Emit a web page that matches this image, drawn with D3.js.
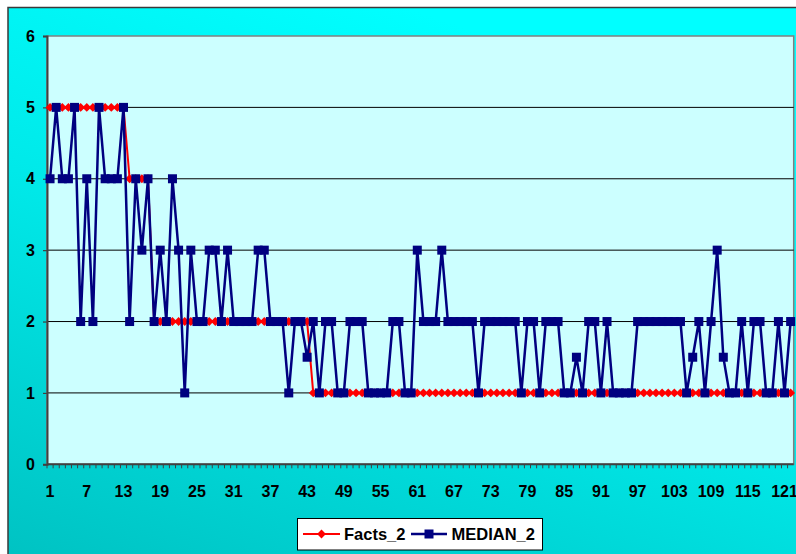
<!DOCTYPE html>
<html>
<head>
<meta charset="utf-8">
<script src="https://cdn.jsdelivr.net/npm/d3@7"></script>
<style>
  html, body { margin: 0; padding: 0; background: #ffffff; }
  svg { display: block; }
  text { font-family: "Liberation Sans", Arial, sans-serif; font-weight: bold; fill: #000; }
</style>
</head>
<body>
<svg id="chart" width="796" height="554"></svg>
<script>
// ---- data ----
const categories = [
  1,2,3,4,5,6,7,8,9,10,11,12,13,14,15,16,17,18,19,20,
  21,22,23,24,25,26,27,28,29,30,31,32,33,34,35,36,37,38,39,40,
  41,42,43,44,45,46,47,48,49,50,51,52,53,54,55,56,57,58,59,60,
  61,62,63,64,65,66,67,68,69,70,71,72,73,74,75,76,77,78,79,80,
  81,82,83,84,85,86,87,88,89,90,91,92,93,94,95,96,97,98,99,100,
  101,102,103,104,105,106,107,108,109,110,111,112,113,114,115,116,117,118,119,120,
  121,122
];
const facts2 = [
  5,5,5,5,5,5,5,5,5,5,
  5,5,5,4,4,4,4,2,2,2,
  2,2,2,2,2,2,2,2,2,2,
  2,2,2,2,2,2,2,2,2,2,
  2,2,2,1,1,1,1,1,1,1,
  1,1,1,1,1,1,1,1,1,1,
  1,1,1,1,1,1,1,1,1,1,
  1,1,1,1,1,1,1,1,1,1,
  1,1,1,1,1,1,1,1,1,1,
  1,1,1,1,1,1,1,1,1,1,
  1,1,1,1,1,1,1,1,1,1,
  1,1,1,1,1,1,1,1,1,1,
  1,1
];
const median2 = [
  4,5,4,4,5,2,4,2,5,4,
  4,4,5,2,4,3,4,2,3,2,
  4,3,1,3,2,2,3,3,2,3,
  2,2,2,2,3,3,2,2,2,1,
  2,2,1.5,2,1,2,2,1,1,2,
  2,2,1,1,1,1,2,2,1,1,
  3,2,2,2,3,2,2,2,2,2,
  1,2,2,2,2,2,2,1,2,2,
  1,2,2,2,1,1,1.5,1,2,2,
  1,2,1,1,1,1,2,2,2,2,
  2,2,2,2,1,1.5,2,1,2,3,
  1.5,1,1,2,1,2,2,1,1,2,
  1,2
];
const xTickLabels = [1,7,13,19,25,31,37,43,49,55,61,67,73,79,85,91,97,103,109,115,121];
const yTicks = [0,1,2,3,4,5,6];
const gridValues = [1,2,3,4,5];
const seriesNames = ["Facts_2", "MEDIAN_2"];

// ---- layout ----
const W = 796, H = 554;
const plot = { left: 47, top: 36, right: 793.7, bottom: 464.3 };
const svg = d3.select("#chart");

const defs = svg.append("defs");
const grad = defs.append("linearGradient").attr("id", "bg")
  .attr("x1", 0).attr("y1", 1).attr("x2", 0.5).attr("y2", 0);
grad.append("stop").attr("offset", 0).attr("stop-color", "#00c2c2");
grad.append("stop").attr("offset", 0.55).attr("stop-color", "#00e8e8");
grad.append("stop").attr("offset", 1).attr("stop-color", "#00ffff");

// chart area
svg.append("rect").attr("x", 8).attr("y", 7.5).attr("width", W).attr("height", H)
  .attr("fill", "url(#bg)").attr("stroke", "#3a3a3a").attr("stroke-width", 1.5);

// plot area
svg.append("rect")
  .attr("x", plot.left).attr("y", plot.top)
  .attr("width", plot.right - plot.left).attr("height", plot.bottom - plot.top)
  .attr("fill", "#ccffff").attr("stroke", "#808080").attr("stroke-width", 1.5);

const x = d3.scaleBand().domain(categories).range([plot.left, plot.right]).padding(0);
const cx = d => x(d) + x.bandwidth() / 2;
const y = d3.scaleLinear().domain([0, 6]).range([plot.bottom, plot.top]);

// gridlines
svg.append("g").selectAll("line").data(gridValues).join("line")
  .attr("x1", plot.left).attr("x2", plot.right)
  .attr("y1", d => y(d)).attr("y2", d => y(d))
  .attr("stroke", "#000").attr("stroke-width", 1);

// y axis
const yAxis = svg.append("g").attr("transform", `translate(${plot.left},0)`)
  .call(d3.axisLeft(y).tickValues(yTicks).tickSize(4).tickPadding(8).tickFormat(d3.format("d")));
yAxis.select(".domain").attr("stroke", "#404040").attr("stroke-width", 2);
yAxis.selectAll(".tick line").attr("stroke", "#404040").attr("stroke-width", 1.2);
yAxis.selectAll("text").attr("font-size", 16).attr("font-weight", "bold")
  .attr("font-family", '"Liberation Sans", Arial, sans-serif').attr("fill", "#000");

// x axis: tick marks at each category boundary, labels every 6th
const xg = svg.append("g");
xg.append("line").attr("x1", plot.left).attr("x2", plot.right)
  .attr("y1", plot.bottom).attr("y2", plot.bottom)
  .attr("stroke", "#404040").attr("stroke-width", 2);
xg.selectAll("line.tk").data(categories).join("line").attr("class", "tk")
  .attr("x1", d => x(d)).attr("x2", d => x(d))
  .attr("y1", plot.bottom).attr("y2", plot.bottom + 4)
  .attr("stroke", "#404040").attr("stroke-width", 1);
xg.selectAll("text").data(xTickLabels).join("text")
  .attr("x", d => cx(d)).attr("y", 497)
  .attr("text-anchor", "middle").attr("font-size", 16)
  .text(d => d);

// series lines
const line = d3.line().x((d, i) => cx(categories[i])).y(d => y(d));
svg.append("path").datum(facts2).attr("d", line)
  .attr("fill", "none").attr("stroke", "#ff0000").attr("stroke-width", 2);
const diamond = d3.symbol().type(d3.symbolDiamond2).size(50);
svg.append("g").selectAll("path").data(facts2).join("path")
  .attr("transform", (d, i) => `translate(${cx(categories[i])},${y(d)})`)
  .attr("d", diamond).attr("fill", "#ff0000");

svg.append("path").datum(median2).attr("d", line)
  .attr("fill", "none").attr("stroke", "#000080").attr("stroke-width", 2.5);
svg.append("g").selectAll("rect").data(median2).join("rect")
  .attr("x", (d, i) => cx(categories[i]) - 4.5).attr("y", d => y(d) - 4.5)
  .attr("width", 9).attr("height", 9).attr("fill", "#000080");

// legend
const lg = svg.append("g");
lg.append("rect").attr("x", 297.5).attr("y", 518.5).attr("width", 245).attr("height", 31.5)
  .attr("fill", "#ffffff").attr("stroke", "#000").attr("stroke-width", 1);
const ly = 534;
lg.append("line").attr("x1", 303).attr("x2", 340).attr("y1", ly).attr("y2", ly)
  .attr("stroke", "#ff0000").attr("stroke-width", 2);
lg.append("path").attr("transform", `translate(321.5,${ly})`).attr("d", diamond).attr("fill", "#ff0000");
lg.append("text").attr("x", 344).attr("y", ly + 6).attr("font-size", 16.5).text(seriesNames[0]);
lg.append("line").attr("x1", 411).attr("x2", 447).attr("y1", ly).attr("y2", ly)
  .attr("stroke", "#000080").attr("stroke-width", 2.5);
lg.append("rect").attr("x", 429 - 4.5).attr("y", ly - 4.5).attr("width", 9).attr("height", 9).attr("fill", "#000080");
lg.append("text").attr("x", 451.5).attr("y", ly + 6).attr("font-size", 16.5).text(seriesNames[1]);
</script>
</body>
</html>
